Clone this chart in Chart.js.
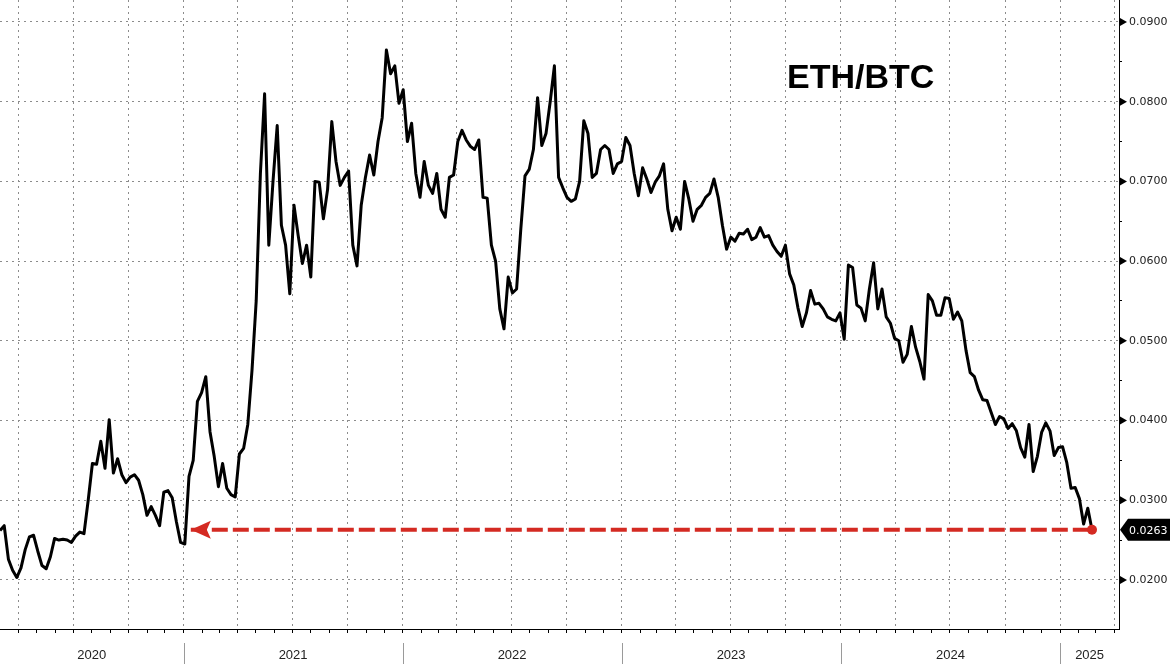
<!DOCTYPE html>
<html>
<head>
<meta charset="utf-8">
<title>ETH/BTC</title>
<script src="https://cdn.jsdelivr.net/npm/chart.js@4.4.1/dist/chart.umd.min.js"></script>
<style>
    html, body { margin: 0; padding: 0; background: #fff; }
    #wrap { width: 1170px; height: 664px; }
</style>
</head>
<body>
<div id="wrap"><canvas id="ethBtcChart" width="1170" height="664"></canvas></div>
<script>
// weekly closes, first one on startDate
const startDate = '2020-03-01';
const stepDays = 7;
const ethBtc = [
    0.0262, 0.0268, 0.0226, 0.0212, 0.0203, 0.0215, 0.0238, 0.0254, 0.0256, 0.0236,
    0.0218, 0.0214, 0.0229, 0.0252, 0.0250, 0.0251, 0.0250, 0.0247, 0.0255, 0.0260,
    0.0258, 0.0300, 0.0346, 0.0345, 0.0374, 0.0340, 0.0401, 0.0334, 0.0352, 0.0332,
    0.0322, 0.0329, 0.0332, 0.0325, 0.0307, 0.0281, 0.0292, 0.0281, 0.0268, 0.0310,
    0.0312, 0.0303, 0.0273, 0.0247, 0.0245, 0.0330, 0.0350, 0.0424, 0.0435, 0.0455,
    0.0386, 0.0355, 0.0317, 0.0346, 0.0315, 0.0307, 0.0304, 0.0358, 0.0365, 0.0395,
    0.0463, 0.0550, 0.0710, 0.0810, 0.0620, 0.0700, 0.0770, 0.0645, 0.0620, 0.0559,
    0.0670, 0.0632, 0.0597, 0.0620, 0.0580, 0.0700, 0.0699, 0.0653, 0.0690, 0.0775,
    0.0725, 0.0695, 0.0705, 0.0713, 0.0620, 0.0594, 0.0670, 0.0705, 0.0733, 0.0708,
    0.0750, 0.0780, 0.0865, 0.0835, 0.0845, 0.0798, 0.0815, 0.0750, 0.0773, 0.0710,
    0.0680, 0.0725, 0.0695, 0.0685, 0.0710, 0.0665, 0.0655, 0.0705, 0.0708, 0.0750,
    0.0764, 0.0752, 0.0744, 0.0740, 0.0752, 0.0680, 0.0679, 0.0620, 0.0600, 0.0540,
    0.0515, 0.0580, 0.0560, 0.0565, 0.0640, 0.0707, 0.0715, 0.0740, 0.0805, 0.0745,
    0.0760, 0.0800, 0.0845, 0.0705, 0.0692, 0.0680, 0.0675, 0.0678, 0.0700, 0.0776,
    0.0760, 0.0705, 0.0710, 0.0740, 0.0745, 0.0740, 0.0710, 0.0722, 0.0725, 0.0755,
    0.0745, 0.0710, 0.0682, 0.0717, 0.0703, 0.0686, 0.0699, 0.0707, 0.0722, 0.0665,
    0.0638, 0.0655, 0.0640, 0.0700, 0.0678, 0.0650, 0.0665, 0.0670, 0.0680, 0.0685,
    0.0703, 0.0680, 0.0645, 0.0615, 0.0630, 0.0625, 0.0635, 0.0634, 0.0640, 0.0627,
    0.0630, 0.0642, 0.0630, 0.0632, 0.0620, 0.0612, 0.0606, 0.0620, 0.0584, 0.0570,
    0.0541, 0.0518, 0.0535, 0.0563, 0.0546, 0.0547, 0.0540, 0.0530, 0.0527, 0.0525,
    0.0535, 0.0502, 0.0595, 0.0592, 0.0545, 0.0541, 0.0525, 0.0565, 0.0598, 0.0540,
    0.0565, 0.0530, 0.0522, 0.0503, 0.0500, 0.0473, 0.0483, 0.0518, 0.0492, 0.0474,
    0.0452, 0.0558, 0.0550, 0.0532, 0.0532, 0.0554, 0.0553, 0.0527, 0.0536, 0.0525,
    0.0488, 0.0460, 0.0455, 0.0438, 0.0426, 0.0425, 0.0410, 0.0395, 0.0405, 0.0402,
    0.0390, 0.0396, 0.0387, 0.0366, 0.0354, 0.0395, 0.0336, 0.0355, 0.0385, 0.0397,
    0.0387, 0.0356, 0.0366, 0.0367, 0.0347, 0.0315, 0.0316, 0.0302, 0.0270, 0.0290,
    0.0263
];
const yearLabels = ['2020', '2021', '2022', '2023', '2024', '2025'];
const yMajorTicks = [0.02, 0.03, 0.04, 0.05, 0.06, 0.07, 0.08, 0.09];
const yMinorTicks = [0.025, 0.035, 0.045, 0.055, 0.065, 0.075, 0.085];
const arrowFrom = '2021-01-13';
const axisEnd = '2025-04-09';
const chartTitle = 'ETH/BTC';

const RED = '#d42a22';
const DAY_MS = 864e5;
const t0 = Date.parse(startDate);
const dayOf = (s) => (Date.parse(s) - t0) / DAY_MS;

const xMax = dayOf(axisEnd);
const lastValue = ethBtc[ethBtc.length - 1];
const lastDay = (ethBtc.length - 1) * stepDays;

// month ticks on the time axis, gridline every quarter, plus one label tick per year
const xTicks = [];
const yearStarts = [];
for (let yr = 2020; yr <= 2025; yr++) {
    for (let m = 0; m < 12; m++) {
        const d = (Date.UTC(yr, m, 1) - t0) / DAY_MS;
        if (d > 0 && d < xMax) xTicks.push({ value: d, kind: m % 3 === 0 ? 'quarter' : 'month' });
        if (m === 0 && d > 0 && d < xMax) yearStarts.push(d);
    }
}
yearLabels.forEach((lbl) => {
    const a = Math.max(0, dayOf(lbl + '-01-01'));
    const b = Math.min(xMax, dayOf((+lbl + 1) + '-01-01'));
    xTicks.push({ value: (a + b) / 2, kind: 'label', label: lbl });
});
xTicks.sort((p, q) => p.value - q.value);
const xKindAt = (i) => (xTicks[i] ? xTicks[i].kind : 'none');
const isMajorY = (v) => yMajorTicks.some((m) => Math.abs(m - v) < 1e-7);

const extrasPlugin = {
    id: 'extras',
    afterDraw(chart) {
        const { ctx, chartArea } = chart;
        const x = chart.scales.x, y = chart.scales.y;
        ctx.save();

        // year separators under the axis
        ctx.strokeStyle = '#9a9a9a';
        ctx.lineWidth = 1;
        yearStarts.forEach((d) => {
            const px = Math.round(x.getPixelForValue(d)) + 0.5;
            ctx.beginPath();
            ctx.moveTo(px, chartArea.bottom + 14);
            ctx.lineTo(px, chart.height);
            ctx.stroke();
        });

        // small triangles at the labelled y ticks
        ctx.fillStyle = '#000';
        yMajorTicks.forEach((v) => {
            const py = y.getPixelForValue(v);
            ctx.beginPath();
            ctx.moveTo(chartArea.right + 1, py - 4);
            ctx.lineTo(chartArea.right + 1, py + 4);
            ctx.lineTo(chartArea.right + 8, py);
            ctx.closePath();
            ctx.fill();
        });

        // arrow head at the left end of the red line
        const ax = x.getPixelForValue(dayOf(arrowFrom));
        const ay = y.getPixelForValue(lastValue);
        ctx.fillStyle = RED;
        ctx.beginPath();
        ctx.moveTo(ax, ay);
        ctx.lineTo(ax + 20, ay - 9);
        ctx.lineTo(ax + 16, ay);
        ctx.lineTo(ax + 20, ay + 9);
        ctx.closePath();
        ctx.fill();

        // last value badge
        const bx = chartArea.right + 1;
        ctx.fillStyle = '#000';
        ctx.beginPath();
        ctx.moveTo(bx, ay);
        ctx.lineTo(bx + 8, ay - 11);
        ctx.lineTo(chart.width, ay - 11);
        ctx.lineTo(chart.width, ay + 11);
        ctx.lineTo(bx + 8, ay + 11);
        ctx.closePath();
        ctx.fill();
        ctx.fillStyle = '#fff';
        ctx.font = '11px "DejaVu Sans", sans-serif';
        ctx.textBaseline = 'middle';
        ctx.textAlign = 'left';
        ctx.fillText(lastValue.toFixed(4), bx + 9, ay + 1);

        // title
        ctx.fillStyle = '#000';
        ctx.font = 'bold 34px "Liberation Sans", Arial, sans-serif';
        ctx.textBaseline = 'alphabetic';
        ctx.fillText(chartTitle, 787, 88);

        ctx.restore();
    }
};

document.addEventListener('DOMContentLoaded', function () {
    Chart.defaults.font.family = '"DejaVu Sans", sans-serif';
    Chart.defaults.color = '#222';

    const ctx = document.getElementById('ethBtcChart').getContext('2d');
    new Chart(ctx, {
        type: 'line',
        data: {
            datasets: [{
                label: chartTitle,
                data: ethBtc.map((v, i) => ({ x: i * stepDays, y: v })),
                borderColor: '#000',
                borderWidth: 3,
                borderJoinStyle: 'round',
                pointRadius: 0,
                tension: 0,
                order: 1
            }, {
                label: 'last',
                data: [{ x: dayOf(arrowFrom), y: lastValue }, { x: lastDay, y: lastValue }],
                borderColor: RED,
                borderWidth: 4,
                borderDash: [16, 5],
                pointRadius: [0, 5],
                pointBackgroundColor: RED,
                pointBorderWidth: 0,
                clip: false,
                order: 0
            }]
        },
        options: {
            responsive: false,
            animation: false,
            devicePixelRatio: 1,
            layout: { padding: 0, autoPadding: false },
            plugins: { legend: { display: false }, tooltip: { enabled: false } },
            scales: {
                x: {
                    type: 'linear',
                    min: 0,
                    max: xMax,
                    afterBuildTicks: (s) => { s.ticks = xTicks.map((t) => ({ value: t.value })); },
                    afterFit: (s) => { s.height = 35; s.paddingLeft = 0; s.paddingRight = 0; },
                    border: { display: true, color: '#000', width: 1, dash: [2, 4] },
                    grid: {
                        color: (c) => (xKindAt(c.index) === 'quarter' ? '#8c8c8c' : 'rgba(0,0,0,0)'),
                        tickColor: (c) => (xKindAt(c.index) === 'label' ? 'rgba(0,0,0,0)' : '#000'),
                        tickBorderDash: [],
                        tickLength: 4,
                        lineWidth: 1
                    },
                    ticks: {
                        autoSkip: false,
                        maxRotation: 0,
                        padding: 15,
                        font: { family: '"Liberation Sans", Arial, sans-serif', size: 13 },
                        color: '#222',
                        callback: (v, i) => (xTicks[i] && xTicks[i].label) || ''
                    }
                },
                y: {
                    position: 'right',
                    min: 0.09 - 607 / 7970,
                    max: 0.09 + 22 / 7970,
                    afterBuildTicks: (s) => {
                        s.ticks = yMajorTicks.concat(yMinorTicks).sort((a, b) => a - b).map((v) => ({ value: v }));
                    },
                    afterFit: (s) => { s.width = 51; s.paddingTop = 0; s.paddingBottom = 0; },
                    border: { display: true, color: '#000', width: 1, dash: [2, 4] },
                    grid: {
                        color: (c) => (c.tick && isMajorY(c.tick.value) ? '#8c8c8c' : 'rgba(0,0,0,0)'),
                        tickColor: (c) => (c.tick && !isMajorY(c.tick.value) ? '#000' : 'rgba(0,0,0,0)'),
                        tickBorderDash: [],
                        tickLength: 3,
                        lineWidth: 1
                    },
                    ticks: {
                        autoSkip: false,
                        padding: 7,
                        font: { size: 11 },
                        color: '#222',
                        callback: (v) => (isMajorY(v) ? v.toFixed(4) : '')
                    }
                }
            }
        },
        plugins: [extrasPlugin]
    });
});
</script>
</body>
</html>
